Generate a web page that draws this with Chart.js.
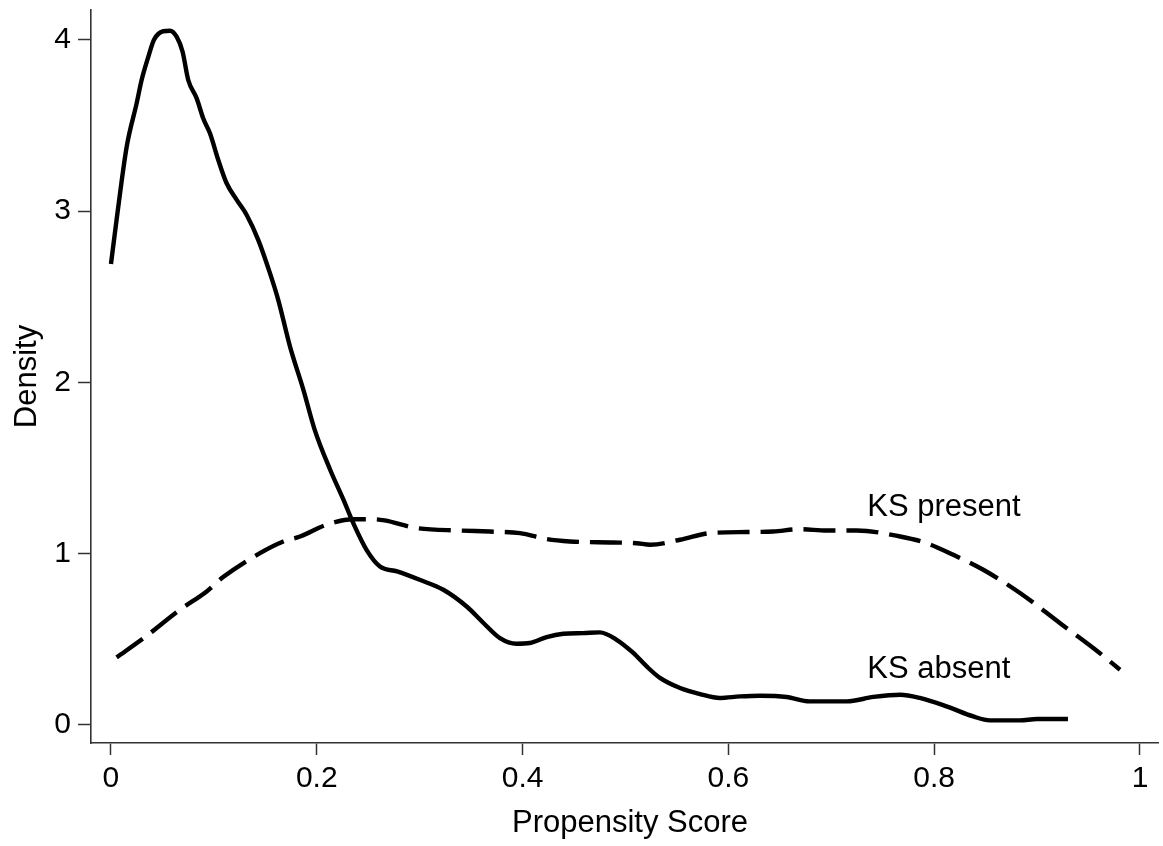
<!DOCTYPE html>
<html>
<head>
<meta charset="utf-8">
<script src="https://cdn.jsdelivr.net/npm/chart.js@4/dist/chart.umd.min.js"></script>
<style>
  html, body { margin: 0; padding: 0; background: #fff; }
  #wrap { width: 1163px; height: 846px; position: relative; }
</style>
</head>
<body>
<div id="wrap"><canvas id="c" width="1163" height="846"></canvas></div>
<script>
// Kernel density of the propensity score, by KS status
const absentX = [0, 0.0055, 0.0153, 0.025, 0.0298, 0.0363, 0.0418, 0.0508, 0.0573, 0.0638, 0.0696, 0.0751, 0.0833, 0.0897, 0.0962, 0.1043, 0.1124, 0.1222, 0.1319, 0.1432, 0.1545, 0.1626, 0.174, 0.187, 0.198, 0.213, 0.226, 0.2355, 0.2485, 0.2614, 0.278, 0.300, 0.323, 0.3457, 0.362, 0.378, 0.394, 0.407, 0.4234, 0.4396, 0.459, 0.475, 0.4914, 0.5076, 0.5206, 0.5335, 0.553, 0.5724, 0.5918, 0.6113, 0.6307, 0.6566, 0.679, 0.715, 0.741, 0.767, 0.786, 0.812, 0.838, 0.854, 0.883, 0.9, 0.930];
const absentY = [2.69, 2.95, 3.376, 3.63, 3.765, 3.90, 4.0, 4.05, 4.053, 4.018, 3.93, 3.765, 3.658, 3.54, 3.454, 3.298, 3.162, 3.065, 2.977, 2.83, 2.637, 2.48, 2.208, 1.956, 1.722, 1.489, 1.313, 1.177, 1.02, 0.924, 0.895, 0.846, 0.788, 0.69, 0.594, 0.506, 0.473, 0.477, 0.512, 0.531, 0.535, 0.539, 0.496, 0.419, 0.34, 0.273, 0.214, 0.179, 0.156, 0.165, 0.169, 0.162, 0.136, 0.136, 0.162, 0.175, 0.156, 0.107, 0.048, 0.025, 0.025, 0.033, 0.033];

const presentX = [0.0055, 0.031, 0.067, 0.093, 0.109, 0.1448, 0.1675, 0.1837, 0.2096, 0.2355, 0.255, 0.266, 0.297, 0.339, 0.368, 0.3975, 0.4234, 0.446, 0.488, 0.511, 0.524, 0.553, 0.582, 0.618, 0.6436, 0.6696, 0.6955, 0.7246, 0.767, 0.7927, 0.8186, 0.8477, 0.8834, 0.922, 0.9546, 0.9806];
const presentY = [0.393, 0.502, 0.671, 0.778, 0.862, 1.002, 1.07, 1.099, 1.168, 1.2, 1.2, 1.193, 1.148, 1.134, 1.128, 1.119, 1.084, 1.07, 1.064, 1.06, 1.051, 1.08, 1.119, 1.125, 1.128, 1.142, 1.134, 1.134, 1.099, 1.06, 0.992, 0.905, 0.769, 0.594, 0.448, 0.321];

const xTicks = [0, 0.2, 0.4, 0.6, 0.8, 1];
const yTicks = [0, 1, 2, 3, 4];

const curveLabels = [
  { text: 'KS present', x: 0.735, y: 1.27 },
  { text: 'KS absent', x: 0.735, y: 0.32 }
];
const xTitle = 'Propensity Score';

const FONT = 'Liberation Sans, Arial, sans-serif';

const toPoints = (xs, ys) => xs.map((x, i) => ({ x: x, y: ys[i] }));

// Curve labels and the x-axis title
const labelPlugin = {
  id: 'curveLabels',
  afterDatasetsDraw(chart) {
    const { ctx, scales } = chart;
    ctx.save();
    ctx.fillStyle = '#000';
    ctx.font = '31px ' + FONT;
    ctx.textAlign = 'left';
    ctx.textBaseline = 'middle';
    curveLabels.forEach(l => {
      ctx.fillText(l.text, scales.x.getPixelForValue(l.x), scales.y.getPixelForValue(l.y));
    });
    ctx.textAlign = 'center';
    ctx.textBaseline = 'alphabetic';
    ctx.fillText(xTitle, 630, 832);
    ctx.restore();
  }
};

new Chart(document.getElementById('c'), {
  type: 'line',
  data: {
    datasets: [
      {
        label: 'KS absent',
        data: toPoints(absentX, absentY),
        borderColor: '#000',
        borderWidth: 4.4,
        pointRadius: 0,
        cubicInterpolationMode: 'monotone',
        fill: false
      },
      {
        label: 'KS present',
        data: toPoints(presentX, presentY),
        borderColor: '#000',
        borderWidth: 4.4,
        borderDash: [32, 11],
        pointRadius: 0,
        cubicInterpolationMode: 'monotone',
        fill: false
      }
    ]
  },
  options: {
    responsive: false,
    animation: false,
    layout: { padding: { top: 10, right: 5, left: 0, bottom: 0 } },
    plugins: { legend: { display: false }, tooltip: { enabled: false } },
    scales: {
      x: {
        type: 'linear',
        min: -0.0194,
        max: 1.0175,
        afterBuildTicks: s => { s.ticks = xTicks.map(v => ({ value: v })); },
        afterFit: s => { s.height = 103; s.paddingLeft = 0; s.paddingRight = 0; },
        border: { display: true, color: '#333', width: 1.6 },
        grid: { drawOnChartArea: false, drawTicks: true, tickLength: 12, tickColor: '#333', tickWidth: 1.5 },
        ticks: { color: '#000', font: { family: FONT, size: 30 }, padding: 6, maxRotation: 0,
                 callback: v => String(v) },
        title: { display: false }
      },
      y: {
        type: 'linear',
        min: -0.107,
        max: 4.174,
        afterBuildTicks: s => { s.ticks = yTicks.map(v => ({ value: v })); },
        afterFit: s => { s.width = 91; s.paddingTop = 0; s.paddingBottom = 0; },
        border: { display: true, color: '#333', width: 1.6 },
        grid: { drawOnChartArea: false, drawTicks: true, tickLength: 13, tickColor: '#333', tickWidth: 1.5 },
        ticks: { color: '#000', font: { family: FONT, size: 30 }, padding: 7,
                 callback: v => String(v) },
        title: { display: true, text: 'Density', color: '#000',
                 font: { family: FONT, size: 31 }, padding: { top: 9, bottom: 0 } }
      }
    }
  },
  plugins: [labelPlugin]
});
</script>
</body>
</html>
